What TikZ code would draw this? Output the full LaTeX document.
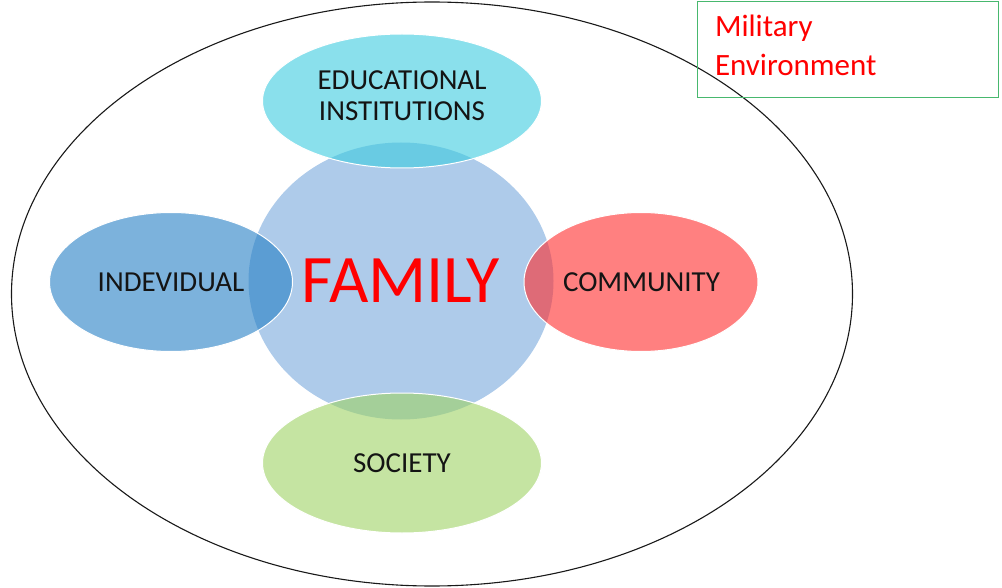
\documentclass[tikz,border=0pt]{standalone}
\usepackage{fontspec}
\setmainfont{Carlito}
\definecolor{famblue}{RGB}{174,203,234}
\definecolor{educyan}{RGB}{60,203,223}
\definecolor{indblue}{RGB}{37,127,197}
\definecolor{comred}{RGB}{255,43,43}
\definecolor{socgreen}{RGB}{158,210,100}
\definecolor{boxgreen}{RGB}{72,184,110}
\definecolor{famred}{RGB}{255,0,0}
\definecolor{labtext}{RGB}{20,20,20}
\usetikzlibrary{shapes.geometric,positioning}

\begin{document}
\begin{tikzpicture}
    [x=1pt,y=-1pt,
      blob/.style={ellipse,inner sep=0pt,draw=white,line width=1pt,
        fill opacity=0.6,text opacity=1,text=labtext,align=center,
        font=\fontsize{29}{28}\selectfont},
      satw/.style={minimum width=279pt,minimum height=134pt}]
  \useasboundingbox (0,0) rectangle (1002,588);

  \node [ellipse,draw=black!90,line width=1.1pt,minimum width=841pt,
    minimum height=584pt,inner sep=0pt] (env) at (432,294) {};

  \node [ellipse,fill=famblue,inner sep=0pt,minimum width=305pt,
    minimum height=277pt,text=famred,font=\fontsize{68}{68}\selectfont]
    (family) at (401,281) {FAMILY};

  \node [blob,satw,fill=educyan,text depth=11.5pt] (edu) at (402,101)
    {\shortstack{EDUCATIONAL\\[9pt]INSTITUTIONS}};
  \node [blob,fill=indblue,minimum width=243pt,minimum height=139pt]
    (indiv) at (171,282) {INDEVIDUAL};
  \node [blob,fill=comred,minimum width=234pt,minimum height=139pt]
    (comm) at (641,282) {\hspace*{1pt}COMMUNITY};
  \node [blob,satw,fill=socgreen,minimum height=140pt] (soc) at (402,463)
    {SOCIETY};

  \node [draw=boxgreen,line width=1pt,anchor=north west,minimum width=301pt,
    minimum height=96pt,inner xsep=17pt,text width=266pt,align=left,
    text depth=9pt,text=famred,font=\fontsize{31}{40}\selectfont]
    (milbox) at (697,1) {\shortstack[l]{Military\\[10pt]Environment}};
\end{tikzpicture}
\end{document}
